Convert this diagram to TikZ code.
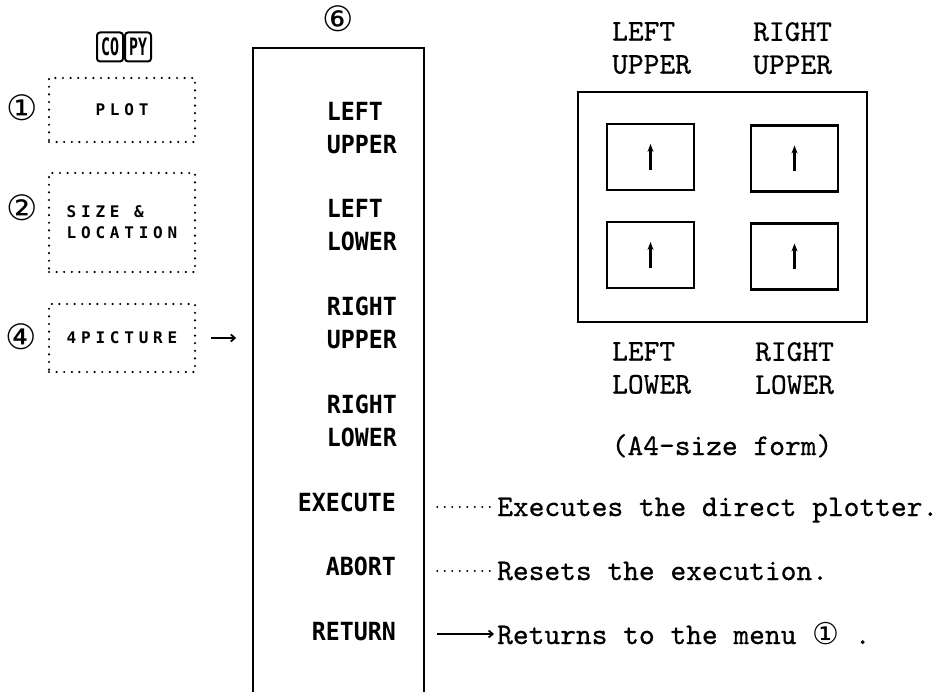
\documentclass[tikz,border=0pt]{standalone}
\usepackage{fontspec}
\usetikzlibrary{arrows.meta, positioning}
\newfontfamily\typefont[FakeBold=0.6]{lmmono10-regular.otf}
\newfontfamily\menufont[FakeStretch=0.93]{DejaVu Sans Mono}
\newfontfamily\keyfont[LetterSpace=30]{DejaVu Sans Mono}
\newfontfamily\capfont[FakeStretch=0.62]{DejaVu Sans Mono}
\newfontfamily\circfont{DejaVu Sans}

\begin{document}
\begin{tikzpicture}[x=1pt, y=-1pt,
    menuitem/.style={font=\menufont\bfseries\fontsize{25}{33}\selectfont, align=left, inner sep=0pt},
    plotbox/.style={draw, line width=2.4pt, line cap=round, dash pattern=on 0pt off 7.6pt, minimum width=146pt, font=\keyfont\bfseries\fontsize{16}{21}\selectfont, align=left},
    keycap/.style={draw, line width=2pt, rounded corners=3pt, minimum width=26pt, minimum height=29pt, inner sep=0pt, font=\capfont\bfseries\fontsize{24}{24}\selectfont},
    circnum/.style={font=\circfont\fontsize{35}{35}\selectfont, inner sep=0pt},
    formtext/.style={font=\typefont\fontsize{30}{33}\selectfont, align=left, inner sep=0pt},
    frame/.style={draw, line width=2.2pt},
    sheet/.style={frame, minimum width=87pt, minimum height=66pt},
    sheetarrow/.style={line width=2.6pt, -{Stealth[length=8pt,width=6pt]}},
    leader/.style={line width=1.5pt, line cap=round, dash pattern=on 0.5pt off 7pt},
    pointer/.style={line width=1.8pt, -{Straight Barb[length=4pt,width=7pt]}}
]
    \useasboundingbox (0,0) rectangle (942,692);

    % COPY key
    \node[keycap] (cokey) at (110,47) {CO};
    \node[keycap, right=0pt of cokey] (pykey) {PY};

    % menu boxes
    \node[plotbox, minimum height=64pt] (plot) at (122,110) {PLOT};
    \node[plotbox, minimum height=99pt] (sizeloc) at (122,222.5) {SIZE \&\\LOCATION};
    \node[plotbox, minimum height=68pt] (fourpic) at (122,338) {4PICTURE};
    \node[circnum] (num1) at (22,108) {①};
    \node[circnum] (num2) at (22,208) {②};
    \node[circnum] (num4) at (21,337) {④};
    \draw[pointer] ([xshift=15pt]fourpic.east) -- ++(25,0);

    % 4PICTURE menu
    \node[circnum] (num6) at (338,19) {⑥};
    \coordinate (menutl) at (253,48);
    \coordinate (menutr) at (424,48);
    \draw[frame, line width=2.8pt] (253,692) -- (menutl) -- (menutr) -- (424,692);
    \node[menuitem, anchor=north east] (leftupper) at (397,102) {LEFT\\UPPER};
    \node[menuitem, anchor=north east] (leftlower) at (397,199) {LEFT\\LOWER};
    \node[menuitem, anchor=north east] (rightupper) at (397,297) {RIGHT\\UPPER};
    \node[menuitem, anchor=north east] (rightlower) at (397,395) {RIGHT\\LOWER};
    \node[menuitem, anchor=base east] (execute) at (396,511) {EXECUTE};
    \node[menuitem, anchor=base east] (abort) at (396,575) {ABORT};
    \node[menuitem, anchor=base east] (returnitem) at (396,640) {RETURN};

    % A4 form
    \node[frame, minimum width=289pt, minimum height=230pt] (form) at (722.5,207) {};
    \node[sheet] (ulsheet) at (650.5,157) {};
    \node[sheet] (ursheet) at (794.5,158.5) {};
    \node[sheet] (llsheet) at (650.5,255) {};
    \node[sheet] (lrsheet) at (794.5,256.5) {};
    \foreach \s in {ulsheet,ursheet,llsheet,lrsheet}
        \draw[sheetarrow] ([yshift=-13pt]\s.center) -- ([yshift=13pt]\s.center);
    \node[formtext, anchor=north west] (ultext) at (612,22) {LEFT\\UPPER};
    \node[formtext, anchor=north west] (urtext) at (753,22) {RIGHT\\UPPER};
    \node[formtext, anchor=north west] (lltext) at (612,342) {LEFT\\LOWER};
    \node[formtext, anchor=north west] (lrtext) at (755,342) {RIGHT\\LOWER};
    \node[formtext, anchor=base] (formsize) at (722,455) {(A4-size form)};

    % explanations
    \node[formtext, anchor=base west] (exectxt) at (497,516) {Executes the direct plotter.};
    \node[formtext, anchor=base west] (aborttxt) at (497,580) {Resets the execution.};
    \node[formtext, anchor=base west] (returntxt) at (497,644) {Returns to the menu {\circfont ①} .};
    \coordinate (execfrom) at (437,507);
    \coordinate (abortfrom) at (437,571);
    \coordinate (returnfrom) at (437,634);
    \draw[leader, shorten >=4pt] (execfrom) -- (execfrom -| exectxt.west);
    \draw[leader, shorten >=4pt] (abortfrom) -- (abortfrom -| aborttxt.west);
    \draw[pointer, shorten >=3pt] (returnfrom) -- (returnfrom -| returntxt.west);
\end{tikzpicture}
\end{document}
